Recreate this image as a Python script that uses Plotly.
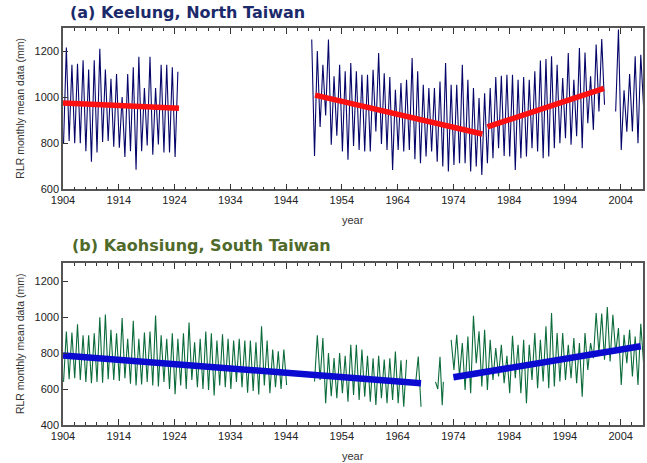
import plotly.graph_objects as go

# ---------------- data ----------------
# Semi-annual samples (trough, peak, trough, ...) every half year from the start year
KEE_A_START = 1904.1
KEE_A = [800, 1215, 810, 1140, 800, 1145, 800, 1160, 765, 1120, 720, 1160, 760, 1210,
         805, 1120, 810, 1080, 785, 1100, 780, 1000, 740, 1100, 765, 1130, 685, 1175,
         765, 1040, 790, 1175, 750, 1040, 795, 1140, 760, 1140, 760, 1130, 740, 1110]

KEE_B_START = 1948.6
KEE_B = [1250, 745, 1200, 870, 1140, 920, 1250, 793, 1090, 832, 1140, 764, 1112, 728,
         1148, 788, 1112, 771, 1097, 764, 1097, 764, 1119, 851, 1191, 797, 1104, 771,
         1087, 684, 1032, 771, 1061, 764, 1075, 771, 1170, 730, 1112, 713, 1054, 742,
         1039, 764, 1039, 720, 1068, 699, 1148, 677, 1054, 706, 1054, 713, 1140, 713,
         1075, 677, 1039, 699, 996, 662, 1017, 713, 1039, 735, 1087, 778, 1093, 745,
         1097, 742, 1097, 684, 1075, 735, 1087, 742, 1075, 778, 1112, 764, 1159, 735,
         1165, 742, 1177, 778, 1140, 800, 1083, 822, 1191, 793, 1075, 830, 1213, 778,
         1194, 887, 1090, 858, 1228, 938, 1252, 967]

KEE_C_START = 2003.1
KEE_C = [938, 1293, 771, 1030, 850, 1100, 851, 1177, 800, 1184, 960]

KAO_A_START = 1904.1
KAO_A = [640, 920, 655, 915, 660, 960, 650, 900, 640, 900, 632, 910, 640, 1000, 635, 1015,
         655, 930, 650, 910, 645, 995, 660, 880, 630, 980, 620, 880, 625, 915, 640, 920,
         620, 1010, 615, 900, 640, 880, 600, 910, 571, 880, 620, 910, 600, 970, 650, 860,
         610, 880, 600, 920, 595, 910, 564, 870, 620, 905, 610, 880, 600, 870, 640, 880,
         610, 870, 580, 870, 590, 860, 570, 950, 620, 870, 577, 820, 610, 810, 600, 820,
         623]

KAO_B_START = 1949.1
KAO_B = [642, 900, 650, 884, 521, 800, 560, 772, 549, 800, 577, 785, 530, 847, 567, 847,
         540, 820, 558, 785, 530, 772, 512, 785, 549, 765, 521, 772, 540, 809, 521, 760,
         502, 763]

KAO_B2_START = 1967.2
KAO_B2 = [623, 781, 502]

KAO_C_YEARS = [1970.8, 1971.2, 1971.6, 1972.0, 1972.2]
KAO_C = [640, 600, 780, 510, 640]

KAO_D_START = 1973.6
KAO_D = [874, 707, 902, 670, 856, 595, 893, 577, 1008, 744, 921, 614, 930, 595, 874, 651,
         828, 670, 847, 633, 785, 577, 897, 660, 847, 577, 874, 521, 847, 651, 912, 605,
         874, 642, 949, 605, 1023, 614, 912, 642, 912, 651, 847, 660, 884, 633, 856, 558,
         912, 707, 856, 772, 1023, 800, 1020, 763, 1057, 753, 1014, 800, 940, 623, 902,
         744, 930, 670, 893, 623, 964, 744]

# Linear trends (start year, end year, start value, end value)
KEE_TREND_YEARS = [(1904.0, 1924.8), (1949.2, 1979.2), (1980.1, 2001.0)]
KEE_TREND_VALUES = [(975, 952), (1009, 840), (871, 1038)]
KAO_TREND_YEARS = [(1904.0, 1968.2), (1974.0, 2007.6)]
KAO_TREND_VALUES = [(787, 632), (666, 838)]

X_TICKS = [1904, 1914, 1924, 1934, 1944, 1954, 1964, 1974, 1984, 1994, 2004]


def semiannual(start, vals):
    return [round(start + 0.5 * i, 2) for i in range(len(vals))], list(vals)


def join(parts):
    xs, ys = [], []
    for x, y in parts:
        if xs:
            xs.append(None)
            ys.append(None)
        xs += list(x)
        ys += list(y)
    return xs, ys


def trend(years, values):
    return join([(list(a), list(b)) for a, b in zip(years, values)])


kee_x, kee_y = join([semiannual(KEE_A_START, KEE_A),
                     semiannual(KEE_B_START, KEE_B),
                     semiannual(KEE_C_START, KEE_C)])
kao_x, kao_y = join([semiannual(KAO_A_START, KAO_A),
                     semiannual(KAO_B_START, KAO_B),
                     semiannual(KAO_B2_START, KAO_B2),
                     (KAO_C_YEARS, KAO_C),
                     semiannual(KAO_D_START, KAO_D)])
kt_x, kt_y = trend(KEE_TREND_YEARS, KEE_TREND_VALUES)
st_x, st_y = trend(KAO_TREND_YEARS, KAO_TREND_VALUES)

fig = go.Figure()
fig.add_trace(go.Scatter(x=kee_x, y=kee_y, mode="lines",
                         line=dict(color="#06066a", width=1.1), xaxis="x", yaxis="y",
                         showlegend=False, hoverinfo="skip"))
fig.add_trace(go.Scatter(x=kt_x, y=kt_y, mode="lines",
                         line=dict(color="#ff1010", width=5.5), xaxis="x", yaxis="y",
                         showlegend=False, hoverinfo="skip"))
fig.add_trace(go.Scatter(x=kao_x, y=kao_y, mode="lines",
                         line=dict(color="#0b6b3a", width=1.1), xaxis="x2", yaxis="y2",
                         showlegend=False, hoverinfo="skip"))
fig.add_trace(go.Scatter(x=st_x, y=st_y, mode="lines",
                         line=dict(color="#0a0ad0", width=6.5), xaxis="x2", yaxis="y2",
                         showlegend=False, hoverinfo="skip"))

tickfont = dict(family="Liberation Sans, Arial, sans-serif", size=11, color="#222222")
xcommon = dict(range=[1904, 2008], tickvals=X_TICKS, ticks="inside", ticklen=6,
               tickwidth=1, tickcolor="#333333", showline=True, linecolor="#555555",
               linewidth=1.5, mirror="ticks", showgrid=False, zeroline=False,
               tickfont=tickfont,
               minor=dict(dtick=2, tick0=1904, ticks="inside", ticklen=3,
                          tickcolor="#333333", showgrid=False))
ycommon = dict(ticks="inside", ticklen=5, tickwidth=1, tickcolor="#333333",
               showline=True, linecolor="#555555", linewidth=1.5, mirror=True,
               showgrid=False, zeroline=False, tickfont=tickfont)

fig.update_layout(
    width=647, height=463,
    margin=dict(l=63, r=2, t=28, b=38),
    paper_bgcolor="white", plot_bgcolor="white",
    hovermode=False,
    xaxis=dict(domain=[0, 1], anchor="y", **xcommon),
    yaxis=dict(domain=[0.5937, 1], anchor="x", range=[600, 1300],
               tickvals=[600, 800, 1000, 1200], **ycommon),
    xaxis2=dict(domain=[0, 1], anchor="y2", **xcommon),
    yaxis2=dict(domain=[0, 0.4073], anchor="x2", range=[400, 1300],
                tickvals=[400, 600, 800, 1000, 1200], **ycommon),
)

title_font = "DejaVu Sans, Verdana, sans-serif"
lab_font = "Liberation Sans, Arial, sans-serif"
ann = [
    dict(text="<b>(a) Keelung, North Taiwan</b>", x=0.008, y=1.038, xanchor="left",
         yanchor="middle", font=dict(family=title_font, size=16, color="#1b2a6b")),
    dict(text="<b>(b) Kaohsiung, South Taiwan</b>", x=0.012, y=0.4534, xanchor="left",
         yanchor="middle", font=dict(family=title_font, size=16, color="#4f6a2a")),
    dict(text="RLR monthly mean data (mm)", x=-0.074, y=0.797, textangle=-90,
         xanchor="center", yanchor="middle",
         font=dict(family=lab_font, size=10.5, color="#333333")),
    dict(text="RLR monthly mean data (mm)", x=-0.074, y=0.204, textangle=-90,
         xanchor="center", yanchor="middle",
         font=dict(family=lab_font, size=10.5, color="#333333")),
    dict(text="year", x=0.5, y=0.5164, xanchor="center", yanchor="middle",
         font=dict(family=lab_font, size=11, color="#333333")),
    dict(text="year", x=0.5, y=-0.078, xanchor="center", yanchor="middle",
         font=dict(family=lab_font, size=11, color="#333333")),
]
for a in ann:
    a.update(xref="paper", yref="paper", showarrow=False)
fig.update_layout(annotations=ann)

fig.write_html("out.html", config={"displayModeBar": False},
               post_script="document.body.style.margin='0px';document.body.style.padding='0px';")
